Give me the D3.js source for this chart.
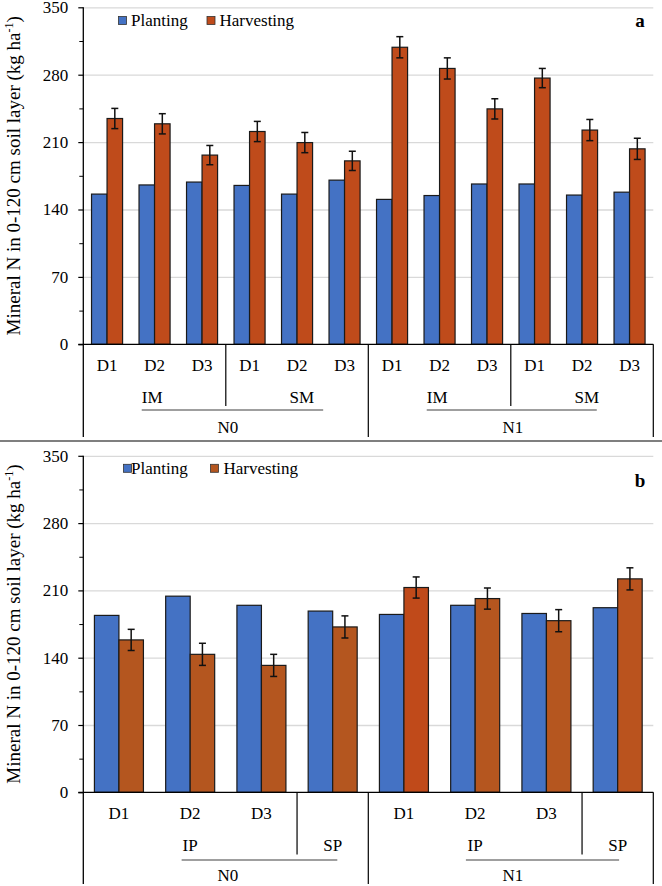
<!DOCTYPE html>
<html>
<head>
<meta charset="utf-8">
<script src="https://cdn.jsdelivr.net/npm/d3@7"></script>
<style>
  html, body { margin: 0; padding: 0; background: #fff; }
  svg, svg text { font-family: "Liberation Serif", "Times New Roman", Tinos, "DejaVu Serif", serif; }
</style>
</head>
<body>
<svg id="chart" width="662" height="886"></svg>
<script>
// ---------------- DATA ----------------
const seriesNames = ["Planting", "Harvesting"];
const yTicks = [0, 70, 140, 210, 280, 350];
const yMinorTicks = [35, 105, 175, 245, 315];

// Panel a
const catsA = ["D1", "D2", "D3", "D1", "D2", "D3", "D1", "D2", "D3", "D1", "D2", "D3"];
const subA = ["IM", "SM", "IM", "SM"];           // each spans 3 categories
const subSpanA = [3, 3, 3, 3];
const nA = ["N0", "N1"];                          // each spans 6 categories
const plantingA = [156, 165.5, 168.5, 165, 156, 170.5, 150.5, 154.5, 166.5, 166.5, 155, 158];
const harvestingA = [234.5, 229, 196.5, 221, 209.5, 190.5, 308.5, 286.5, 244.5, 276.5, 222.5, 203];
const errorA = [10.5, 10.5, 10, 10.5, 10.5, 10, 11, 11, 10.5, 10, 11, 11];

// Panel b
const catsB = ["D1", "D2", "D3", "", "D1", "D2", "D3", ""];
const subB = ["IP", "SP", "IP", "SP"];
const subSpanB = [3, 1, 3, 1];
const nB = ["N0", "N1"];
const plantingB = [184, 204, 194.5, 188.5, 185, 194.5, 186, 192];
const harvestingB = [158.5, 143.5, 132, 172, 213, 201.5, 178.5, 222];
const errorB = [11, 11.5, 11.5, 11.5, 11, 11, 11.5, 11.5];

// ---------------- STYLE ----------------
const FONT = "Liberation Serif, Times New Roman, Tinos, DejaVu Serif, serif";
const blue = "#4472C4";
const harvestColA = "#BF4B1B";
const harvestColB = ["#B4561F", "#B4561F", "#B4561F", "#B4561F", "#C04A1A", "#B5561F", "#B5561F", "#BA531E"];

const svg = d3.select("#chart").attr("font-family", FONT);

function txt(sel) {
  return sel.attr("font-family", FONT).attr("fill", "#000");
}

function drawPanel(cfg) {
  const g = svg.append("g");
  const n = cfg.cats.length;
  const x = d3.scaleBand().domain(d3.range(n)).range([cfg.x0, cfg.x1]).padding(0);
  const xi = d3.scaleBand().domain(seriesNames).range([0, x.bandwidth()])
    .paddingInner(0).paddingOuter(cfg.pairPad);
  const y = d3.scaleLinear().domain([0, 350]).range([cfg.y0, cfg.y350]);

  // gridlines
  g.append("g").attr("transform", `translate(${cfg.x0},0)`)
    .call(d3.axisLeft(y).tickValues(yTicks.filter(d => d > 0)).tickSize(-(cfg.x1 - cfg.x0)).tickFormat(""))
    .call(s => s.select(".domain").remove())
    .call(s => s.selectAll("line").attr("stroke", "#d9d9d9").attr("stroke-width", 1.3));

  // y axis major
  g.append("g").attr("transform", `translate(${cfg.x0},0)`)
    .call(d3.axisLeft(y).tickValues(yTicks).tickSize(5).tickPadding(10).tickFormat(d3.format("d")))
    .attr("font-family", FONT).attr("font-size", 17)
    .call(s => s.select(".domain").remove())
    .call(s => s.selectAll("line").attr("stroke", "#000").attr("stroke-width", 1.2))
    .call(s => txt(s.selectAll("text")).attr("font-size", 17));
  // minor ticks
  g.append("g").attr("transform", `translate(${cfg.x0},0)`)
    .call(d3.axisLeft(y).tickValues(yMinorTicks).tickSize(4).tickFormat(""))
    .call(s => s.select(".domain").remove())
    .call(s => s.selectAll("line").attr("stroke", "#000").attr("stroke-width", 1));

  // bars
  const rows = cfg.cats.map((c, i) => ({ i, p: cfg.planting[i], h: cfg.harvesting[i], e: cfg.error[i] }));
  const grp = g.selectAll(".grp").data(rows).enter().append("g")
    .attr("transform", d => `translate(${x(d.i)},0)`);
  grp.append("rect")
    .attr("x", xi("Planting")).attr("width", xi.bandwidth())
    .attr("y", d => y(d.p)).attr("height", d => y(0) - y(d.p))
    .attr("fill", blue).attr("stroke", "#1a1a1a").attr("stroke-width", 1.2);
  grp.append("rect")
    .attr("x", xi("Harvesting")).attr("width", xi.bandwidth())
    .attr("y", d => y(d.h)).attr("height", d => y(0) - y(d.h))
    .attr("fill", d => cfg.harvestColor(d.i)).attr("stroke", "#1a1a1a").attr("stroke-width", 1.2);
  // error bars
  const cx = xi("Harvesting") + xi.bandwidth() / 2;
  const capW = 3.5;
  grp.append("line").attr("x1", cx).attr("x2", cx)
    .attr("y1", d => y(d.h + d.e)).attr("y2", d => y(d.h - d.e))
    .attr("stroke", "#111").attr("stroke-width", 1.5);
  grp.append("line").attr("x1", cx - capW).attr("x2", cx + capW)
    .attr("y1", d => y(d.h + d.e)).attr("y2", d => y(d.h + d.e))
    .attr("stroke", "#111").attr("stroke-width", 1.5);
  grp.append("line").attr("x1", cx - capW).attr("x2", cx + capW)
    .attr("y1", d => y(d.h - d.e)).attr("y2", d => y(d.h - d.e))
    .attr("stroke", "#111").attr("stroke-width", 1.5);

  // axis lines
  g.append("line").attr("x1", cfg.x0).attr("x2", cfg.x0).attr("y1", y(350)).attr("y2", cfg.yBottom)
    .attr("stroke", "#000").attr("stroke-width", 1.3);
  g.append("line").attr("x1", cfg.x0 - 5).attr("x2", cfg.x1).attr("y1", y(0)).attr("y2", y(0))
    .attr("stroke", "#000").attr("stroke-width", 1.3);

  // category labels level 1
  txt(g.selectAll(".c1").data(cfg.cats).enter().append("text"))
    .attr("x", (d, i) => x(i) + x.bandwidth() / 2).attr("y", cfg.row1)
    .attr("text-anchor", "middle").attr("font-size", 17).text(d => d);

  // level 2
  let start = 0;
  cfg.sub.forEach((s, k) => {
    const span = cfg.subSpan[k];
    const lx = x(start) + x.bandwidth() * cfg.subLabelPos[k];
    txt(g.append("text")).attr("x", lx).attr("y", cfg.row2).attr("text-anchor", "middle")
      .attr("font-size", 17).text(s);
    start += span;
  });
  // sub separators
  cfg.subSeps.forEach(idx => {
    g.append("line").attr("x1", x(idx)).attr("x2", x(idx)).attr("y1", y(0)).attr("y2", cfg.subSepBottom)
      .attr("stroke", "#000").attr("stroke-width", 1.2);
  });
  // level 3
  const per = n / cfg.nl.length;
  cfg.nl.forEach((s, k) => {
    const xs = x(k * per), xe = x(k * per + per - 1) + x.bandwidth();
    txt(g.append("text")).attr("x", (xs + xe) / 2 + 2).attr("y", cfg.row3).attr("text-anchor", "middle")
      .attr("font-size", 17).text(s);
    const u = cfg.underlines[k];
    g.append("line").attr("x1", xs + x.bandwidth() * u[0]).attr("x2", xs + x.bandwidth() * u[1])
      .attr("y1", cfg.underY).attr("y2", cfg.underY).attr("stroke", "#7f7f7f").attr("stroke-width", 1.5);
    if (k > 0) {
      g.append("line").attr("x1", xs).attr("x2", xs).attr("y1", y(0)).attr("y2", cfg.yBottom)
        .attr("stroke", "#000").attr("stroke-width", 1.2);
    }
  });
  g.append("line").attr("x1", cfg.x1).attr("x2", cfg.x1).attr("y1", y(0)).attr("y2", cfg.yBottom)
    .attr("stroke", "#000").attr("stroke-width", 1.2);

  // y title
  const ty = (y(0) + y(350)) / 2;
  const t = txt(g.append("text")).attr("transform", `translate(20,${ty}) rotate(-90)`)
    .attr("text-anchor", "middle").attr("font-size", 19);
  t.append("tspan").text("Mineral N in 0-120 cm soil layer (kg ha");
  t.append("tspan").attr("dy", -7).attr("font-size", 12).text("-1");
  t.append("tspan").attr("dy", 7).text(")");

  // legend
  const L = cfg.legend;
  seriesNames.forEach((s, k) => {
    g.append("rect").attr("x", L.sq[k]).attr("y", L.cy - 4).attr("width", 8).attr("height", 8)
      .attr("fill", k === 0 ? blue : cfg.harvestColor(0)).attr("stroke", "#333").attr("stroke-width", 0.8);
    txt(g.append("text")).attr("x", L.tx[k]).attr("y", L.cy + 5.5).attr("font-size", 17).text(s);
  });

  // panel letter
  txt(g.append("text")).attr("x", 640).attr("y", cfg.letterY).attr("text-anchor", "middle")
    .attr("font-size", 19).attr("font-weight", "bold").text(cfg.letter);
}

drawPanel({
  cats: catsA, sub: subA, subSpan: subSpanA, nl: nA,
  planting: plantingA, harvesting: harvestingA, error: errorA,
  harvestColor: () => harvestColA,
  x0: 83.3, x1: 653.3, y0: 344.3, y350: 7.3, pairPad: 0.53,
  yBottom: 437, row1: 371, row2: 402.5, row3: 432.5,
  subSeps: [3, 9], subSepBottom: 406,
  subLabelPos: [1.45, 1.6, 1.45, 1.6],
  underY: 410, underlines: [[1.23, 5.05], [1.23, 4.81]],
  legend: { cy: 20.5, sq: [118.5, 207], tx: [131, 219.5] },
  letter: "a", letterY: 27
});

drawPanel({
  cats: catsB, sub: subB, subSpan: subSpanB, nl: nB,
  planting: plantingB, harvesting: harvestingB, error: errorB,
  harvestColor: i => harvestColB[i],
  x0: 83.3, x1: 653.3, y0: 792.3, y350: 455.8, pairPad: 0.454,
  yBottom: 884, row1: 819, row2: 851, row3: 881,
  subSeps: [3, 7], subSepBottom: 854.5,
  subLabelPos: [1.5, 0.5, 1.5, 0.5],
  underY: 860, underlines: [[1.38, 3.565], [1.37, 3.52]],
  legend: { cy: 468.3, sq: [123.5, 210.5], tx: [131, 223.5] },
  letter: "b", letterY: 487
});

// divider between panels
svg.append("line").attr("x1", 0).attr("x2", 662).attr("y1", 441).attr("y2", 441)
  .attr("stroke", "#7f7f7f").attr("stroke-width", 2);
</script>
</body>
</html>
